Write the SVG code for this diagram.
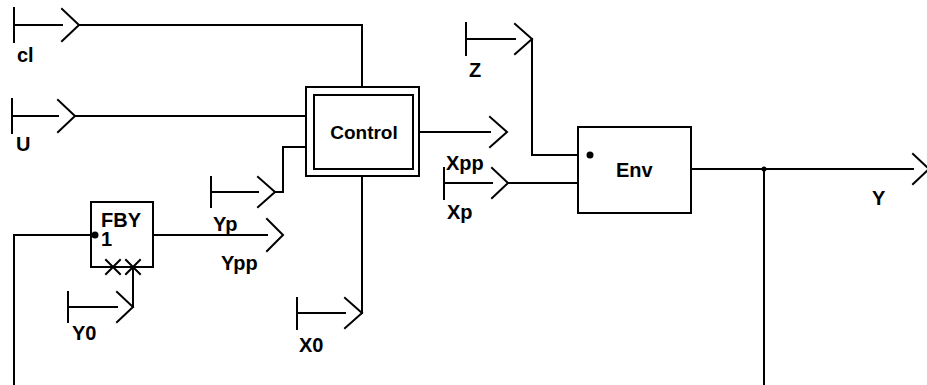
<svg xmlns="http://www.w3.org/2000/svg" width="927" height="385" viewBox="0 0 927 385">
<style>
.ln{fill:none;stroke:#000;stroke-width:2;stroke-linecap:square;stroke-linejoin:miter}
.bx{fill:#fff;stroke:#000;stroke-width:2}
.t{font-family:"Liberation Sans",Arial,sans-serif;font-weight:bold;font-size:20px;fill:#000}
.c{font-size:19px}
.dot{fill:#000}
</style>
<rect width="927" height="385" fill="#fff"/>
<g id="connectors">
<path class="ln" d="M79,25 H362 V87"/>
<path class="ln" d="M75,116 H306"/>
<path class="ln" d="M275,192 H283 V147 H306"/>
<path class="ln" d="M362,176 V313"/>
<path class="ln" d="M419,132 H490"/>
<path class="ln" d="M14,384 V235 H91"/>
<path class="ln" d="M153,235 H267"/>
<path class="ln" d="M133,307 V267"/>
<path class="ln" d="M532,39 V155 H578"/>
<path class="ln" d="M508,183 H578"/>
<path class="ln" d="M691,169 H913"/>
<path class="ln" d="M764,169 V384"/>
<circle class="dot" cx="764" cy="169" r="2.5"/>
</g>
<g id="in_cl">
<path class="ln" d="M14,8 V42 M14,25 H62 M62,9 L79,25 L62,41"/>
<text class="t" x="17" y="62">cl</text>
</g>
<g id="in_U">
<path class="ln" d="M12,99 V133 M12,116 H58 M58,100 L75,116 L58,132"/>
<text class="t" x="16" y="151">U</text>
</g>
<g id="in_Yp">
<path class="ln" d="M211,177 V207 M211,192 H258 M258,177 L275,192 L258,207"/>
<text class="t" x="213" y="231">Yp</text>
</g>
<g id="out_Ypp">
<path class="ln" d="M267,219 L283,235 L267,251"/>
<text class="t" x="221" y="270">Ypp</text>
</g>
<g id="in_Y0">
<path class="ln" d="M68,292 V322 M68,307 H117 M117,292 L133,307 L117,322"/>
<text class="t" x="72" y="340">Y0</text>
</g>
<g id="in_X0">
<path class="ln" d="M297,298 V329 M297,313 H345 M345,298 L362,313 L345,328"/>
<text class="t" x="299" y="352">X0</text>
</g>
<g id="out_Xpp">
<path class="ln" d="M490,117 L507,132 L490,147"/>
<text class="t" x="446" y="170">Xpp</text>
</g>
<g id="in_Xp">
<path class="ln" d="M444,168 V199 M444,183 H492 M492,168 L508,183 L492,198"/>
<text class="t" x="447" y="219">Xp</text>
</g>
<g id="in_Z">
<path class="ln" d="M466,23 V55 M466,39 H515 M515,24 L532,39 L515,54"/>
<text class="t" x="469" y="77">Z</text>
</g>
<g id="out_Y">
<path class="ln" d="M913,154 L929,169 L913,184"/>
<text class="t" x="872" y="205">Y</text>
</g>
<g id="Control">
<rect class="bx" x="306" y="87" width="113" height="89"/>
<rect class="bx" x="314" y="95" width="99" height="74"/>
<text class="t c" x="364" y="139" text-anchor="middle">Control</text>
</g>
<g id="FBY">
<rect class="bx" x="91" y="202" width="62" height="65"/>
<text class="t" x="101" y="227">FBY</text>
<text class="t" x="101" y="246">1</text>
<circle class="dot" cx="95" cy="235" r="3.5"/>
<path class="ln" d="M106,260 L120,274 M106,274 L120,260 M126,260 L140,274 M126,274 L140,260"/>
</g>
<g id="Env">
<rect class="bx" x="578" y="127" width="113" height="86"/>
<circle class="dot" cx="590" cy="155" r="3.5"/>
<text class="t" x="616" y="177">Env</text>
</g>
</svg>
